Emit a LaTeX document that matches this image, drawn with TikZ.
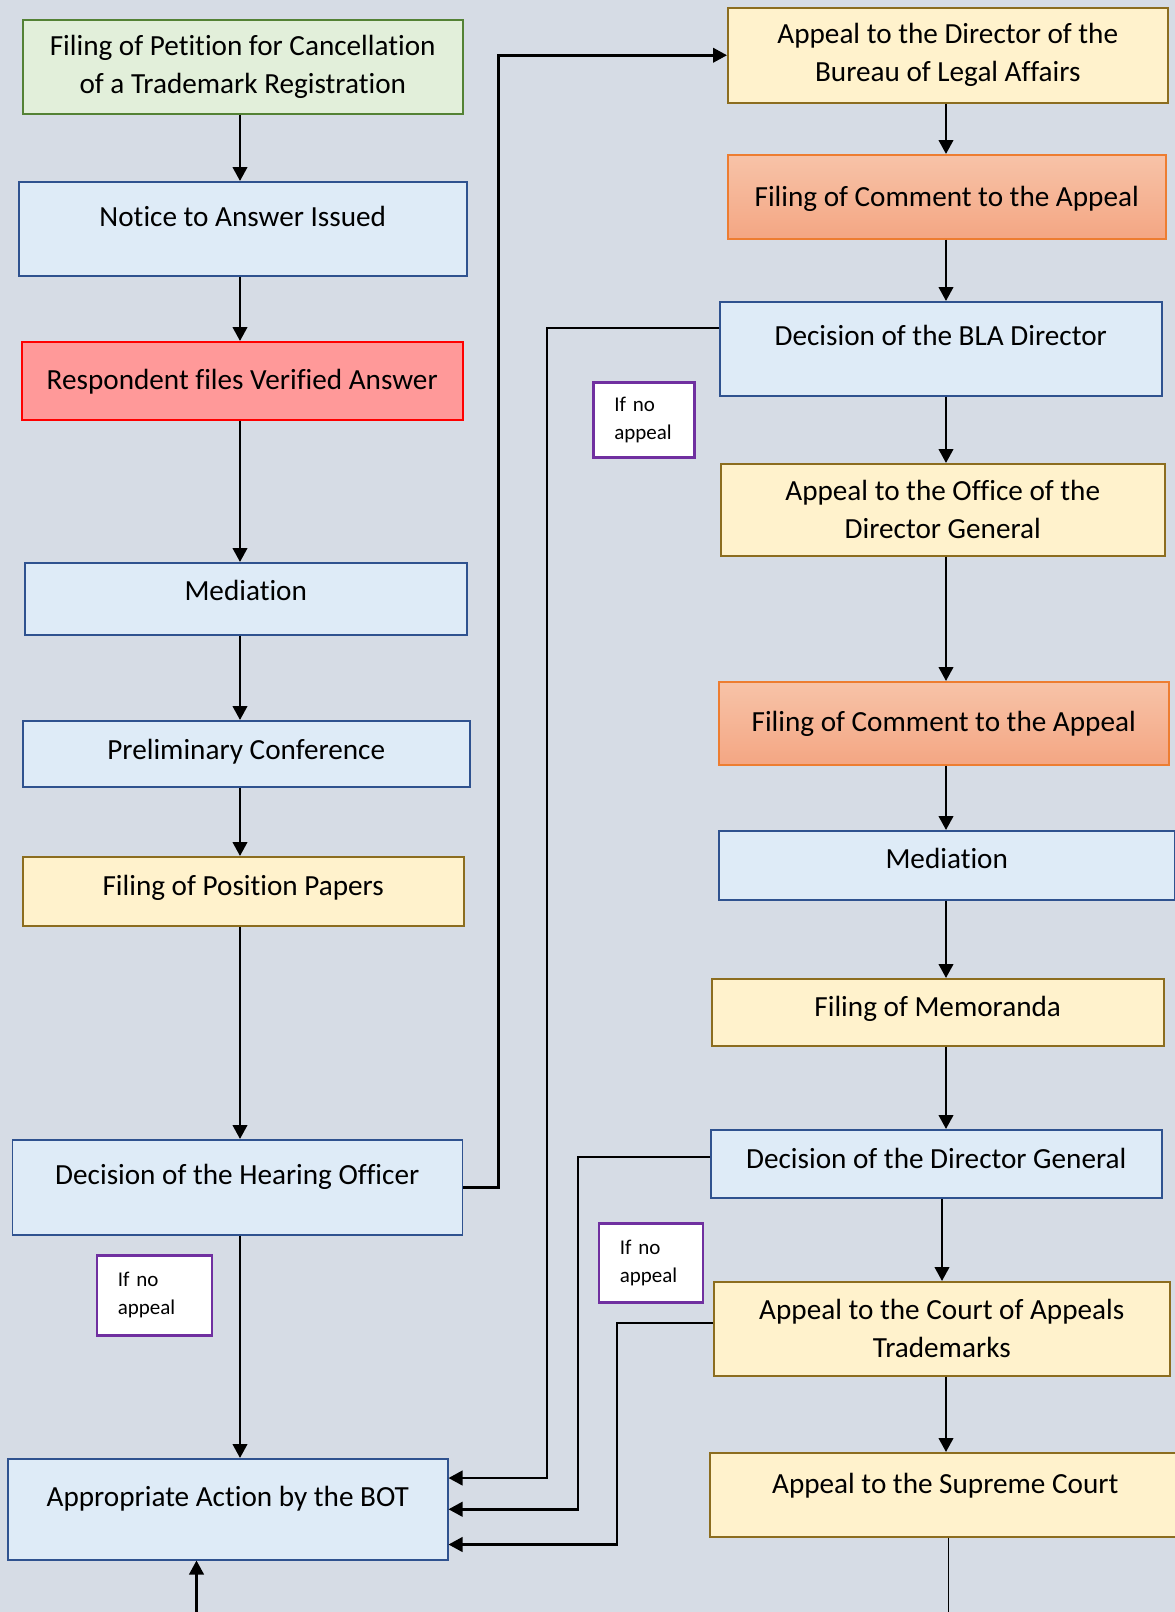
\documentclass[tikz,border=0pt]{standalone}
\usepackage{fontspec}
\setmainfont[RawFeature=-liga]{Carlito}
\usetikzlibrary{arrows.meta}
\definecolor{pagebg}{HTML}{D6DCE5}
\definecolor{fillblue}{HTML}{DEEBF7}
\definecolor{lineblue}{HTML}{2F528F}
\definecolor{fillyellow}{HTML}{FFF2CC}
\definecolor{lineyellow}{HTML}{8C6D1F}
\definecolor{fillgreen}{HTML}{E2EFDA}
\definecolor{linegreen}{HTML}{548235}
\definecolor{fillred}{HTML}{FF9999}
\definecolor{orangetop}{HTML}{F7C3A8}
\definecolor{orangebot}{HTML}{F4A683}
\definecolor{lineorange}{HTML}{ED7D31}
\definecolor{notepurple}{HTML}{7030A0}
\tikzstyle{box}=[draw, line width=1.5pt, inner sep=0pt, anchor=north west, font=\fontsize{29.2}{38}\selectfont]
\tikzstyle{bluebox}=[box, fill=fillblue, draw=lineblue]
\tikzstyle{yellowbox}=[box, fill=fillyellow, draw=lineyellow]
\tikzstyle{greenbox}=[box, fill=fillgreen, draw=linegreen]
\tikzstyle{redbox}=[box, fill=fillred, draw=red]
\tikzstyle{orangebox}=[box, top color=orangetop, bottom color=orangebot, draw=lineorange]
\tikzstyle{note}=[draw=notepurple, line width=2.5pt, fill=white, anchor=north west, inner xsep=21pt, inner ysep=0pt, align=left, font=\fontsize{21}{28}\selectfont]
\tikzstyle{arr}=[line width=2.5pt, -{Triangle[length=14pt,width=14.5pt]}]

\begin{document}
\begin{tikzpicture}[x=1pt, y=-1pt]
\useasboundingbox[fill=pagebg] (0,0) rectangle (1175,1612);
% Left column
    \node[greenbox, align=center, minimum width=440pt, minimum height=94pt] (petition) at (22,19) {Filing of Petition for Cancellation\\of a Trademark Registration};
    \node[bluebox, minimum width=448pt, text height=45pt, text depth=49pt] (notice) at (18,181) {Notice to Answer Issued};
    \node[redbox, minimum width=441pt, text height=48pt, text depth=30pt] (answer) at (21,341) {Respondent files Verified Answer};
    \node[bluebox, minimum width=442pt, text height=38pt, text depth=34pt] (mediationL) at (24,562) {Mediation};
    \node[bluebox, minimum width=447pt, text height=38.5pt, text depth=27.5pt] (prelim) at (22,720) {Preliminary Conference};
    \node[yellowbox, minimum width=441pt, text height=39pt, text depth=30pt] (position) at (22,856) {Filing of Position Papers};
    \node[bluebox, minimum width=450pt, text height=45pt, text depth=50pt] (hearing) at (11.5,1139) {Decision of the Hearing Officer};
    \node[bluebox, minimum width=440pt, text height=48pt, text depth=53pt] (bot) at (7,1458) {Appropriate Action by the BOT};
% Right column
    \node[yellowbox, align=center, minimum width=440pt, minimum height=95pt] (appealBLA) at (727,7) {Appeal to the Director of the\\Bureau of Legal Affairs};
    \node[orangebox, minimum width=438pt, text height=52pt, text depth=32pt] (commentA) at (727,154) {Filing of Comment to the Appeal};
    \node[bluebox, minimum width=442pt, text height=44pt, text depth=50pt] (decisionBLA) at (719,301) {Decision of the BLA Director};
    \node[yellowbox, align=center, minimum width=444pt, minimum height=92pt] (appealDG) at (720,463) {Appeal to the Office of the\\Director General};
    \node[orangebox, minimum width=450pt, text height=50pt, text depth=33pt] (commentB) at (718,681) {Filing of Comment to the Appeal};
    \node[bluebox, minimum width=456pt, text height=37.5pt, text depth=31.5pt] (mediationR) at (718,830) {Mediation};
    \node[yellowbox, minimum width=452pt, text height=37.5pt, text depth=29.5pt] (memoranda) at (711,978) {Filing of Memoranda};
    \node[bluebox, minimum width=451pt, text height=38.5pt, text depth=29.5pt] (decisionDG) at (710,1129) {Decision of the Director General};
    \node[yellowbox, align=center, minimum width=456pt, minimum height=94pt] (appealCA) at (713,1281) {Appeal to the Court of Appeals\\Trademarks};
    \node[yellowbox, minimum width=471pt, text height=40.5pt, text depth=43.5pt] (appealSC) at (709,1452) {Appeal to the Supreme Court};
% Notes
    \node[note, text width=59pt, minimum height=75pt] (noteA) at (592,381) {If no\\appeal};
    \node[note, text width=62pt, minimum height=79pt] (noteC) at (597.5,1222) {If no\\appeal};
    \node[note, text width=73pt, minimum height=80pt] (noteB) at (95.5,1254) {If no\\appeal};
% Arrows down the columns
    \coordinate (lx) at (240,0);
    \coordinate (rx) at (946,0);
    \draw[arr] (petition.south -| lx) -- (notice.north -| lx);
    \draw[arr] (notice.south -| lx) -- (answer.north -| lx);
    \draw[arr] (answer.south -| lx) -- (mediationL.north -| lx);
    \draw[arr] (mediationL.south -| lx) -- (prelim.north -| lx);
    \draw[arr] (prelim.south -| lx) -- (position.north -| lx);
    \draw[arr] (position.south -| lx) -- (hearing.north -| lx);
    \draw[arr] (hearing.south -| lx) -- (bot.north -| lx);
    \draw[arr] (appealBLA.south -| rx) -- (commentA.north -| rx);
    \draw[arr] (commentA.south -| rx) -- (decisionBLA.north -| rx);
    \draw[arr] (decisionBLA.south -| rx) -- (appealDG.north -| rx);
    \draw[arr] (appealDG.south -| rx) -- (commentB.north -| rx);
    \draw[arr] (commentB.south -| rx) -- (mediationR.north -| rx);
    \draw[arr] (mediationR.south -| rx) -- (memoranda.north -| rx);
    \draw[arr] (memoranda.south -| rx) -- (decisionDG.north -| rx);
    \draw[arr] ([xshift=-4pt]decisionDG.south -| rx) -- ([xshift=-4pt]appealCA.north -| rx);
    \draw[arr] (appealCA.south -| rx) -- (appealSC.north -| rx);
% Side connectors
    \draw[arr] (hearing.east) -- ++(35.5,0) |- (appealBLA.west);
    \draw[arr] ([yshift=-27pt]decisionBLA.north west) -- ++(-172,0) |- ([yshift=-20pt]bot.north east);
    \draw[arr] ([yshift=-28pt]decisionDG.north west) -- ++(-132,0) |- (bot.east);
    \draw[arr] ([yshift=-42pt]appealCA.north west) -- ++(-96,0) |- ([yshift=16pt]bot.south east);
% Off the page
    \coordinate (offSC) at (948.5,1630);
    \coordinate (offBOT) at (196.5,1630);
    \draw[line width=1.3pt] (appealSC.south -| offSC) -- (offSC);
    \draw[arr] (offBOT) -- (offBOT |- bot.south);
\end{tikzpicture}
\end{document}
